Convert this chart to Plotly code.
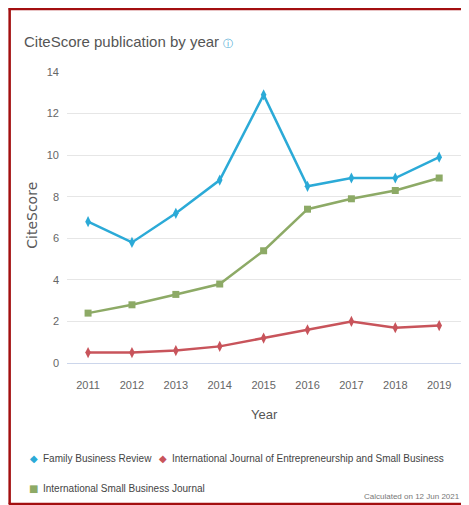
import plotly.graph_objects as go

years = ["2011", "2012", "2013", "2014", "2015", "2016", "2017", "2018", "2019"]
fbr = [6.8, 5.8, 7.2, 8.8, 12.9, 8.5, 8.9, 8.9, 9.9]
ijesb = [0.5, 0.5, 0.6, 0.8, 1.2, 1.6, 2.0, 1.7, 1.8]
isbj = [2.4, 2.8, 3.3, 3.8, 5.4, 7.4, 7.9, 8.3, 8.9]
names = ["Family Business Review",
         "International Journal of Entrepreneurship and Small Business",
         "International Small Business Journal"]
colors = ["#2BAAD7", "#C8545B", "#8DAA66"]
y_ticks = [0, 2, 4, 6, 8, 10, 12, 14]

FONT = "Liberation Sans, Arial, sans-serif"
GRAY = "#666666"

# page offset (body margin) compensation: figure drawn at (8, 8)
OFF = 8
W, H = 469 - OFF, 505 - OFF
L, R, T, B = 58.5, 6.5, 64, 142.3
pw, ph = W - L - R, H - T - B


def px(x):  # reference pixel x -> paper
    return (x - OFF - L) / pw


def py(y):  # reference pixel y -> paper
    return (H - B - (y - OFF)) / ph


fig = go.Figure()
fig.add_trace(go.Scatter(x=years, y=fbr, name=names[0], mode="lines+markers",
                         line=dict(color=colors[0], width=2.5),
                         marker=dict(symbol="diamond-tall", size=8, color=colors[0])))
fig.add_trace(go.Scatter(x=years, y=ijesb, name=names[1], mode="lines+markers",
                         line=dict(color=colors[1], width=2.5),
                         marker=dict(symbol="diamond-tall", size=8, color=colors[1])))
fig.add_trace(go.Scatter(x=years, y=isbj, name=names[2], mode="lines+markers",
                         line=dict(color=colors[2], width=2.5),
                         marker=dict(symbol="square", size=7, color=colors[2])))

fig.update_layout(
    width=W, height=H,
    margin=dict(l=L, r=R, t=T, b=B),
    paper_bgcolor="white", plot_bgcolor="white",
    font=dict(family=FONT, color=GRAY, size=11),
    showlegend=False,
    title=dict(text="CiteScore publication by year <span style='color:#3a9fd0;font-size:10px'>ⓘ</span>",
               x=(24 - OFF) / W, xanchor="left", y=1 - (42 - OFF) / H, yanchor="middle",
               font=dict(family=FONT, size=15, color="#555555")),
    xaxis=dict(type="category", range=[-0.48, 8.52], showgrid=False,
               showline=True, linecolor="#ccd6eb", linewidth=1,
               ticks="", tickfont=dict(size=11, color=GRAY), ticklabelstandoff=12,
               zeroline=False, fixedrange=True),
    yaxis=dict(range=[0, 14], tickvals=y_ticks, showgrid=True, gridcolor="#e6e6e6",
               gridwidth=1, zeroline=False, ticks="", showline=False,
               tickfont=dict(size=11, color=GRAY), ticklabelstandoff=7, fixedrange=True),
)

fig.add_annotation(text="CiteScore", textangle=-90, xref="paper", yref="paper",
                   x=px(32), y=py(215), xanchor="center", yanchor="middle", showarrow=False,
                   font=dict(family="DejaVu Sans, sans-serif", size=14, color="#5a5a5a"))
fig.add_annotation(text="Year", xref="paper", yref="paper", x=px(264), y=py(414),
                   xanchor="center", yanchor="middle",
                   showarrow=False, font=dict(family=FONT, size=13, color="#555555"))

# legend (symbol + label)
legend_items = [(0, 33, 458), (1, 163, 458), (2, 33, 488)]
for i, xs, ys in legend_items:
    sym = "◆" if i < 2 else "■"
    fig.add_annotation(text=f"<span style='color:{colors[i]}'>{sym}</span>",
                       xref="paper", yref="paper", x=px(xs), y=py(ys), xanchor="center",
                       yanchor="middle", showarrow=False,
                       font=dict(family="DejaVu Sans, sans-serif", size=10))
    fig.add_annotation(text=names[i], xref="paper", yref="paper", x=px(xs + 7), y=py(ys),
                       xanchor="left", yanchor="middle", showarrow=False,
                       font=dict(family=FONT, size=10, color="#444444"))

fig.add_annotation(text="Calculated on 12 Jun 2021", xref="paper", yref="paper",
                   x=px(463), xanchor="right", y=py(496), yanchor="middle",
                   showarrow=False, font=dict(family=FONT, size=8, color="#777777"))

# red frame
FR = "#A30F10"
fig.add_shape(type="line", xref="paper", yref="paper", x0=px(9), x1=px(9), y0=py(8), y1=py(503.5),
              line=dict(color=FR, width=2.5))
fig.add_shape(type="line", xref="paper", yref="paper", x0=px(8), x1=px(469), y0=py(9), y1=py(9),
              line=dict(color=FR, width=2.5))
fig.add_shape(type="line", xref="paper", yref="paper", x0=px(8), x1=px(469), y0=py(503.5), y1=py(503.5),
              line=dict(color=FR, width=2.5))

fig.write_html("out.html")
